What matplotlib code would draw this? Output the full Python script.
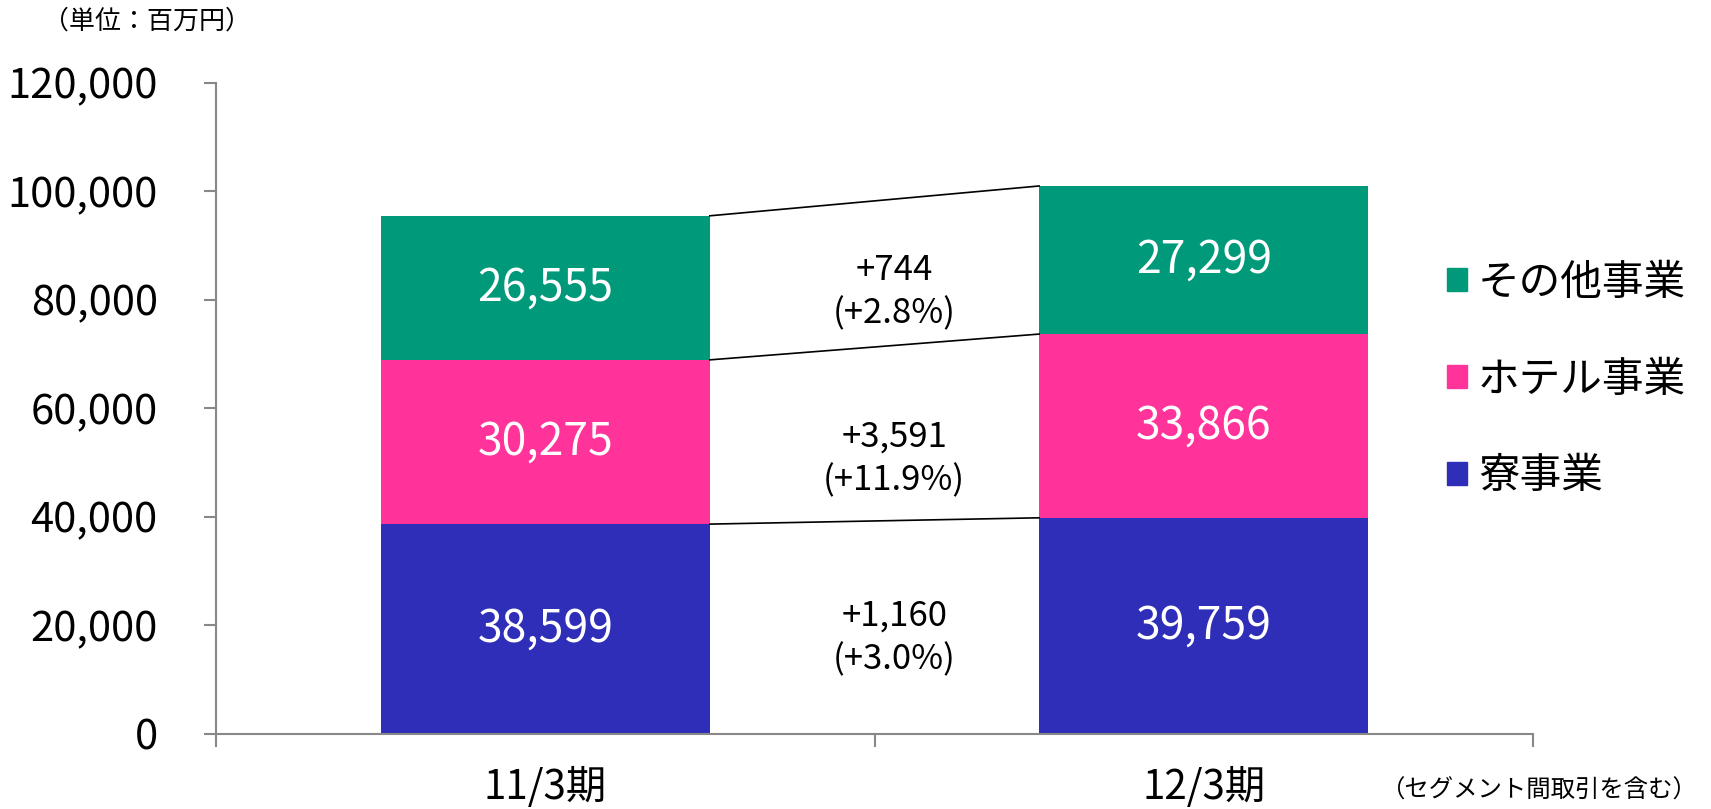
"""
セグメント別売上高 11/3期 vs 12/3期 — 積み上げ棒グラフ
"""
import numpy as np
import matplotlib
matplotlib.use("Agg")
import matplotlib.pyplot as plt
import matplotlib.patches as mpatches

plt.rcParams["font.family"] = ["Noto Sans CJK JP", "DejaVu Sans"]
NUM_FONT = ["Noto Sans CJK JP", "DejaVu Sans"]

periods   = ["11/3期", "12/3期"]
segments  = ["寮事業", "ホテル事業", "その他事業"]
values    = {
    "寮事業":     [38599, 39759],
    "ホテル事業": [30275, 33866],
    "その他事業": [26555, 27299],
}
diffs     = ["+1,160\n(+3.0%)", "+3,591\n(+11.9%)", "+744\n(+2.8%)"]
colors    = ["#2E2EB8", "#FF3399", "#00997A"]
yticks    = [0, 20000, 40000, 60000, 80000, 100000, 120000]

# y positions of the change labels (layout only)
diff_y    = [17600, 50600, 81400]

W, H = 1711, 809
fig = plt.figure(figsize=(W / 100, H / 100), dpi=100)
fig.patch.set_facecolor("white")
ax = fig.add_axes([216 / W, (H - 733.5) / H, (1533 - 216) / W, 651 / H])

x = np.arange(len(periods))
bw = 0.5
bottom = np.zeros(len(periods))
tops = []
for seg, c in zip(segments, colors):
    v = np.array(values[seg], dtype=float)
    ax.bar(x, v, bw, bottom=bottom, color=c, edgecolor="none", label=seg)
    for xi, vi, bi in zip(x, v, bottom):
        ax.text(xi, bi + vi / 2, f"{int(vi):,}", ha="center", va="center",
                color="white", fontsize=32, family=NUM_FONT)
    bottom = bottom + v
    tops.append(bottom.copy())

# connector lines between the two bars
for t in tops:
    ax.plot([x[0] + bw / 2, x[1] - bw / 2], [t[0], t[1]], color="black", lw=1.2)

for txt, yy in zip(diffs, diff_y):
    ax.text(0.53, yy, txt, ha="center", va="center", fontsize=25,
            family=NUM_FONT, linespacing=1.3)

ax.set_xlim(-0.5, 1.5)
ax.set_ylim(0, 120000)
ax.set_yticks(yticks)
ax.set_yticklabels([f"{v:,}" for v in yticks], family=NUM_FONT, fontsize=30)
ax.set_xticks(x)
ax.set_xticklabels(periods, fontsize=29)
ax.set_xticks([-0.5, 0.5, 1.5], minor=True)
ax.tick_params(axis="x", which="major", length=0, pad=24)
ax.tick_params(axis="x", which="minor", length=9, width=1.5, color="#888888")
ax.tick_params(axis="y", length=9, width=1.5, color="#888888", pad=33)
ax.spines[["top", "right"]].set_visible(False)
ax.spines[["left", "bottom"]].set_color("#888888")
ax.spines[["left", "bottom"]].set_linewidth(1.5)

handles = [mpatches.Patch(color=c, label=s) for s, c in zip(segments, colors)][::-1]
fig.legend(handles=handles, loc="center left", bbox_to_anchor=(1447 / W, (H - 380) / H),
           frameon=False, fontsize=30, handlelength=0.48, handleheight=0.48,
           handletextpad=0.26, labelspacing=1.34, borderpad=0, borderaxespad=0)

fig.text(43 / W, (H - 21) / H, "（単位：百万円）", fontsize=18.7, va="center", ha="left")
fig.text(1697 / W, (H - 791) / H, "（セグメント間取引を含む）", fontsize=17.6,
         va="center", ha="right")

plt.savefig("out.png", dpi=100, facecolor="white")
